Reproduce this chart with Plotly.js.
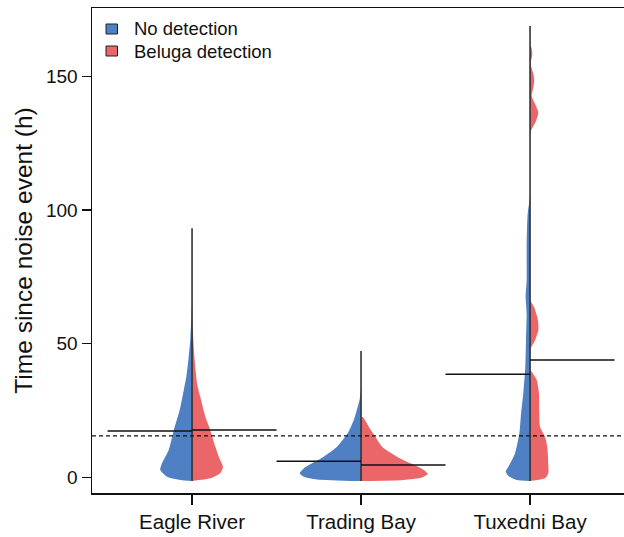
<!DOCTYPE html>
<html>
<head>
<meta charset="utf-8">
<script src="https://cdn.plot.ly/plotly-3.0.1.min.js"></script>
<style>html,body{margin:0;padding:0;background:#fff;}#chart{width:624px;height:537px;}</style>
</head>
<body>
<div id="chart"></div>
<script>
// ---- data ----
const sites = ['Eagle River', 'Trading Bay', 'Tuxedni Bay'];
const seriesNames = ['No detection', 'Beluga detection'];
const seriesColors = ['#5080c4', '#eb6669'];

// violin half-width profiles (y in hours, half-width in category units); null separates pieces
const erNoY  = [66, 60, 52, 45, 38, 32.6, 25.2, 17.7, 10.3, 5.3, 2.8, 0.3, -0.9, -1.3];
const erNoW  = [0, .004, .010, .020, .033, .049, .073, .108, .138, .178, .188, .148, .069, 0];
const erBelY = [62, 55, 45, 35, 30.1, 22.7, 17.7, 11.5, 7.8, 4, 1.6, -0.3, -1.3];
const erBelW = [0, .005, .014, .030, .049, .079, .108, .138, .158, .183, .167, .108, 0];

const tbNoY  = [33, 29, 26.4, 21.5, 16.5, 11.5, 7.8, 5.3, 3.4, 1.6, 0.3, -0.7, -1.3];
const tbNoW  = [0, .009, .020, .043, .079, .142, .221, .290, .339, .363, .339, .260, 0];
const tbBelY = [22.7, 22.5, 19, 15.2, 11.5, 7.8, 5.3, 2.8, 1.3, 0.0, -0.9, -1.3];
const tbBelW = [0, .012, .046, .085, .124, .213, .292, .371, .395, .361, .253, 0];

const txNoY  = [104.8, 98.6, 86.1, 73.7, 67.5, 61.3, 51.3, 41.3, 31.4, 24, 16.5, 9, 4, 2.2, 0.6, -0.9, -1.3];
const txNoW  = [0, .014, .020, .020, .026, .020, .024, .028, .040, .053, .063, .089, .128, .144, .128, .079, 0];
const txBelY = [161.4, 160.8, 158.3, 154.6, 150.8, 148.3, 145.8, 142.7, 139.6, 136.5, 133.4, 130.9, 129, null,
                66.2, 63.7, 58.8, 55, 51.3, 48.8, 47.5, null,
                40.5, 39.5, 36.4, 31.4, 24, 19, 15.2, 11.5, 5.3, 1.6, -0.3, -1.3];
const txBelW = [0, .008, .014, .004, .020, .025, .020, .010, .030, .049, .036, .016, 0, null,
                0, .024, .047, .049, .030, .008, 0, null,
                0, .010, .040, .053, .055, .059, .089, .102, .108, .108, .089, 0];

// group central values (horizontal bars) per site
const noDetCentre  = [17.4, 6.05, 38.6];
const belugaCentre = [17.8, 4.67, 43.9];
// range of each site (vertical line)
const rangeMin = [-1.3, -1.3, -1.3];
const rangeMax = [93.2, 47.3, 168.8];
// overall reference level (dotted line)
const overallLevel = 15.6;

const tickVals = [0, 50, 100, 150];

// ---- build traces ----
const profiles = [
  [[erNoY, erNoW], [erBelY, erBelW]],
  [[tbNoY, tbNoW], [tbBelY, tbBelW]],
  [[txNoY, txNoW], [txBelY, txBelW]]
];

const traces = [];
profiles.forEach((pair, i) => {
  pair.forEach((prof, s) => {
    const [ys, ws] = prof;
    const sign = s === 0 ? -1 : 1;
    const xs = ws.map(w => (w === null ? null : i + sign * w));
    traces.push({
      type: 'scatter', mode: 'lines', x: xs, y: ys,
      fill: 'toself', fillcolor: seriesColors[s], connectgaps: false,
      line: {width: 0, color: seriesColors[s], shape: 'spline', smoothing: 0.6},
      showlegend: false, hoverinfo: 'skip'
    });
  });
});

// vertical range lines
sites.forEach((name, i) => {
  traces.push({
    type: 'scatter', mode: 'lines', x: [i, i], y: [rangeMin[i], rangeMax[i]],
    line: {color: '#333333', width: 1.6}, showlegend: false, hoverinfo: 'skip'
  });
});

// horizontal central-value bars
sites.forEach((name, i) => {
  traces.push({
    type: 'scatter', mode: 'lines', x: [i - 0.5, i], y: [noDetCentre[i], noDetCentre[i]],
    line: {color: '#111111', width: 1.5}, showlegend: false, hoverinfo: 'skip'
  });
  traces.push({
    type: 'scatter', mode: 'lines', x: [i, i + 0.5], y: [belugaCentre[i], belugaCentre[i]],
    line: {color: '#111111', width: 1.5}, showlegend: false, hoverinfo: 'skip'
  });
});

// legend built from shapes + text annotations
const plotL = 92, plotT = 8, plotW = 532, plotH = 485;
const px = x => (x - plotL) / plotW;
const py = y => 1 - (y - plotT) / plotH;
const legendRows = [29, 51];
const shapes = [{
  type: 'line', xref: 'paper', yref: 'y', x0: 0, x1: 0.995, y0: overallLevel, y1: overallLevel,
  line: {color: '#111', width: 1.3, dash: '4px,3px'}, layer: 'above'
}];
const annotations = [];
seriesNames.forEach((nm, s) => {
  const yc = legendRows[s];
  shapes.push({
    type: 'rect', xref: 'paper', yref: 'paper',
    x0: px(106), x1: px(117.5), y0: py(yc - 5), y1: py(yc + 5),
    fillcolor: seriesColors[s], line: {color: '#222', width: 1}
  });
  annotations.push({
    xref: 'paper', yref: 'paper', x: px(132), y: py(yc), xanchor: 'left', yanchor: 'middle',
    text: nm, showarrow: false, font: {size: 18.5, color: '#111'}
  });
});

const layout = {
  width: 624, height: 537,
  margin: {l: 92, r: 0, t: 8, b: 44, pad: 0},
  paper_bgcolor: '#ffffff', plot_bgcolor: '#ffffff',
  font: {family: 'Liberation Sans, Arial, sans-serif', color: '#111111', size: 19},
  showlegend: false,
  xaxis: {
    range: [-0.592, 2.556], tickvals: [0, 1, 2], ticktext: sites,
    showgrid: false, zeroline: false,
    showline: true, linecolor: '#111', linewidth: 1.5, mirror: true,
    ticks: 'outside', ticklen: 10, tickwidth: 1.3, tickcolor: '#111',
    tickfont: {size: 20.5}, fixedrange: true
  },
  yaxis: {
    range: [-5.79, 175.5], tickvals: tickVals, ticktext: tickVals.map(String),
    showgrid: false, zeroline: false,
    showline: true, linecolor: '#111', linewidth: 1.5, mirror: false,
    ticks: 'outside', ticklen: 9, tickwidth: 1.3, tickcolor: '#111',
    tickfont: {size: 19},
    title: {text: 'Time since noise event (h)', font: {size: 24.5}, standoff: 6},
    fixedrange: true
  },
  shapes: shapes,
  annotations: annotations
};

Plotly.newPlot('chart', traces, layout, {displayModeBar: false, staticPlot: true});
</script>
</body>
</html>
